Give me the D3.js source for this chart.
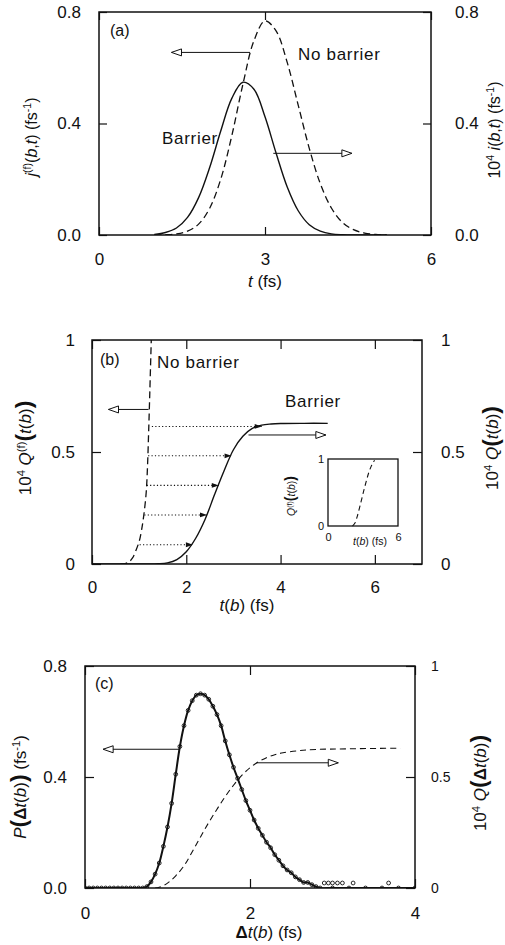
<!DOCTYPE html>
<html><head><meta charset="utf-8">
<script src="https://cdn.jsdelivr.net/npm/d3@7"></script>
<style>
body{margin:0;background:#fff;}
svg text{font-family:"Liberation Sans",Arial,Helvetica,sans-serif;fill:#111;}
</style></head><body>
<script>
// ---------- Panel (a) data ----------
const tGridA = [1.0,1.2,1.4,1.6,1.8,2.0,2.2,2.4,2.6,2.8,3.0,3.2,3.4,3.6,3.8,4.0,4.2,4.4,4.6,4.8,5.0,5.2];
const barrierA = [0.002,0.009,0.025,0.063,0.134,0.242,0.373,0.490,0.548,0.523,0.424,0.294,0.173,0.087,0.037,0.014,0.004,0.001,0,0,0,0];
const noBarrierA = [0,0.001,0.004,0.014,0.039,0.096,0.200,0.356,0.540,0.697,0.768,0.732,0.620,0.466,0.311,0.184,0.097,0.045,0.019,0.007,0.002,0];
const xTicksA = [0,3,6];
const yTicksA = [0,0.4,0.8];

// ---------- Panel (b) data ----------
const tBarrierB = [0,1.2,1.4,1.6,1.8,2.0,2.2,2.4,2.6,2.8,3.0,3.2,3.4,3.6,3.8,4.0,4.5,5.0];
const qBarrierB = [0,0,0.001,0.005,0.02,0.055,0.115,0.2,0.31,0.415,0.51,0.57,0.605,0.62,0.625,0.627,0.628,0.628];
const tNoBarrierB = [0.6,0.7,0.78,0.86,0.93,1.0,1.05,1.1,1.15,1.18,1.2,1.22,1.24,1.26];
const qNoBarrierB = [0,0.002,0.008,0.027,0.06,0.1,0.15,0.22,0.32,0.45,0.58,0.72,0.87,1.02];
const arrowQB = [0.086,0.219,0.351,0.483,0.614];
const arrowFromB = [1.01,1.11,1.16,1.19,1.27];
const arrowToB = [2.14,2.44,2.69,2.96,3.6];
const tInset = [2.1,2.3,2.5,2.7,2.9,3.1,3.3,3.5,3.7,3.9,4.0];
const qInset = [0,0.04,0.14,0.27,0.41,0.55,0.68,0.8,0.89,0.96,0.98];
const xTicksB = [0,2,4,6];
const yTicksB = [0,0.5,1];

// ---------- Panel (c) data ----------
const dtP = [0,0.05,0.1,0.15,0.2,0.25,0.3,0.35,0.4,0.45,0.5,0.55,0.6,0.65,0.7,0.75,0.8,0.85,0.9,0.95,1.0,1.05,1.1,1.15,1.2,1.25,1.3,1.35,1.4,1.45,1.5,1.55,1.6,1.65,1.7,1.75,1.8,1.85,1.9,1.95,2.0,2.05,2.1,2.15,2.2,2.25,2.3,2.35,2.4,2.45,2.5,2.55,2.6,2.65,2.7,2.75,2.8,2.85,3.0,3.2,3.4,3.6,3.8,4.0];
const pVals = [0,0,0,0,0,0,0,0,0,0,0,0,0,0,0,0.005,0.022,0.05,0.09,0.15,0.22,0.305,0.41,0.51,0.585,0.64,0.675,0.695,0.70,0.695,0.68,0.655,0.625,0.585,0.53,0.48,0.435,0.395,0.355,0.315,0.28,0.245,0.215,0.19,0.165,0.145,0.12,0.1,0.08,0.065,0.055,0.04,0.03,0.02,0.02,0.012,0.005,0,0,0,0,0,0,0];
const tailDt = [2.9,2.95,3.0,3.06,3.12,3.25,3.68];
const tailP = [0.018,0.018,0.018,0.018,0.018,0.018,0.018];
const dtQ = [0.85,0.9,1.0,1.1,1.2,1.3,1.4,1.5,1.6,1.7,1.8,1.9,2.0,2.1,2.2,2.3,2.4,2.6,2.8,3.2,3.82];
const qVals = [0,0.003,0.022,0.055,0.1,0.163,0.23,0.295,0.355,0.412,0.463,0.507,0.542,0.568,0.587,0.6,0.609,0.619,0.624,0.627,0.63];
const xTicksC = [0,2,4];
const yTicksCL = [0,0.4,0.8];
const yTicksCR = [0,0.5,1];

// ---------- setup ----------
const W=505,H=945;
const svg=d3.select("body").append("svg").attr("width",W).attr("height",H);
const defs=svg.append("defs");
defs.append("marker").attr("id","openHead").attr("viewBox","-1 -6 12 12")
  .attr("refX",10).attr("refY",0).attr("markerUnits","userSpaceOnUse")
  .attr("markerWidth",12).attr("markerHeight",12).attr("orient","auto")
  .append("path").attr("d","M0,-3.5L10,0L0,3.5Z").attr("fill","#fff").attr("stroke","#111").attr("stroke-width",1);
defs.append("marker").attr("id","fillHead").attr("viewBox","-1 -6 12 12")
  .attr("refX",7).attr("refY",0).attr("markerUnits","userSpaceOnUse")
  .attr("markerWidth",12).attr("markerHeight",12).attr("orient","auto")
  .append("path").attr("d","M0,-2.4L7,0L0,2.4Z").attr("fill","#111");

function rich(sel, parts, size){
  parts.forEach(p=>{
    const ts=sel.append("tspan").text(p.t);
    if(p.i) ts.attr("font-style","italic");
    if(p.b) ts.attr("font-weight","bold");
    if(p.sup) ts.attr("baseline-shift","super").attr("font-size",size*0.66);
    if(p.big) ts.attr("font-size",size*1.35).attr("font-weight","bold");
  });
}
function vlabel(x,y,parts,size){
  const t=svg.append("text").attr("transform",`translate(${x},${y}) rotate(-90)`)
    .attr("text-anchor","middle").attr("dy","0.35em").attr("font-size",size);
  rich(t,parts,size);
}
function label(x,y,parts,size,anchor,ls){
  const t=svg.append("text").attr("x",x).attr("y",y).attr("font-size",size)
    .attr("text-anchor",anchor||"start").attr("letter-spacing",ls||0);
  rich(t,parts,size);
}
function styleAxis(g,size){
  g.select(".domain").remove();
  g.selectAll("line").attr("stroke","#111").attr("stroke-width",1.2);
  g.selectAll("text").attr("font-size",size).attr("font-family","'Liberation Sans',Arial,sans-serif").attr("fill","#111");
}
function frame(L,T,R,B,id){
  defs.append("clipPath").attr("id",id).append("rect").attr("x",L).attr("y",T).attr("width",R-L).attr("height",B-T);
  return svg.append("rect").attr("x",L).attr("y",T).attr("width",R-L).attr("height",B-T)
    .attr("fill","none").attr("stroke","#111").attr("stroke-width",1.5);
}
function axes(x,y,yR,L,T,R,B,xt,ytL,ytR,fmtL,fmtR,tk,pads,sizes){
  const gb=svg.append("g").attr("transform",`translate(0,${B})`)
    .call(d3.axisBottom(x).tickValues(xt).tickSize(-tk).tickSizeOuter(0).tickPadding(pads[0]).tickFormat(d3.format("d")));
  styleAxis(gb,sizes[0]);
  const gt=svg.append("g").attr("transform",`translate(0,${T})`)
    .call(d3.axisTop(x).tickValues(xt).tickSize(-tk).tickSizeOuter(0).tickFormat(""));
  styleAxis(gt,sizes[0]);
  const gl=svg.append("g").attr("transform",`translate(${L},0)`)
    .call(d3.axisLeft(y).tickValues(ytL).tickSize(-tk).tickSizeOuter(0).tickPadding(pads[1]).tickFormat(fmtL));
  styleAxis(gl,sizes[1]);
  const gr=svg.append("g").attr("transform",`translate(${R},0)`)
    .call(d3.axisRight(yR).tickValues(ytR).tickSize(-tk).tickSizeOuter(0).tickPadding(pads[2]).tickFormat(fmtR));
  styleAxis(gr,sizes[2]);
}
const curve=d3.curveCatmullRom.alpha(0.5);

// ================= Panel (a) =================
{
  const L=99,R=431,T=12,B=235;
  const x=d3.scaleLinear().domain([0,6]).range([L,R]);
  const y=d3.scaleLinear().domain([0,0.8]).range([B,T]);
  const line=d3.line().x(d=>x(d[0])).y(d=>y(d[1])).curve(curve);
  const g=svg.append("g").attr("clip-path","url(#clipA)");
  g.append("path").attr("d",line(d3.zip(tGridA,noBarrierA))).attr("fill","none")
    .attr("stroke","#111").attr("stroke-width",1.3).attr("stroke-dasharray","7,4");
  g.append("path").attr("d",line(d3.zip(tGridA,barrierA))).attr("fill","none")
    .attr("stroke","#111").attr("stroke-width",1.4);
  frame(L,T,R,B,"clipA");
  axes(x,y,y,L,T,R,B,xTicksA,yTicksA,yTicksA,d3.format(".1f"),d3.format(".1f"),8,[18,18,24],[17,17,17]);
  svg.append("line").attr("x1",x(2.73)).attr("x2",x(1.31)).attr("y1",y(0.655)).attr("y2",y(0.655))
    .attr("stroke","#111").attr("stroke-width",1).attr("marker-end","url(#openHead)");
  svg.append("line").attr("x1",x(3.15)).attr("x2",x(4.57)).attr("y1",y(0.293)).attr("y2",y(0.293))
    .attr("stroke","#111").attr("stroke-width",1).attr("marker-end","url(#openHead)");
  label(110,36,[{t:"(a)"}],16);
  label(298,60,[{t:"No barrier"}],17,"start",0.7);
  label(162,144,[{t:"Barrier"}],17,"start",0.7);
  label(265,287,[{t:"t",i:true},{t:" (fs)"}],17,"middle");
  vlabel(31,137,[{t:"j",i:true},{t:"(f)",sup:true},{t:"("},{t:"b",i:true},{t:","},{t:"t",i:true},{t:") (fs"},{t:"-1",sup:true},{t:")"}],16);
  vlabel(494,130,[{t:"10"},{t:"4",sup:true},{t:"  "},{t:"i",i:true},{t:"("},{t:"b",i:true},{t:","},{t:"t",i:true},{t:") (fs"},{t:"-1",sup:true},{t:")"}],16);
}

// ================= Panel (b) =================
{
  const L=92,R=422,T=340,B=564;
  const x=d3.scaleLinear().domain([0,7]).range([L,R]);
  const y=d3.scaleLinear().domain([0,1]).range([B,T]);
  const line=d3.line().x(d=>x(d[0])).y(d=>y(d[1])).curve(curve);
  const g=svg.append("g").attr("clip-path","url(#clipB)");
  g.append("path").attr("d",line(d3.zip(tNoBarrierB,qNoBarrierB))).attr("fill","none")
    .attr("stroke","#111").attr("stroke-width",1.3).attr("stroke-dasharray","7,4");
  g.append("path").attr("d",line(d3.zip(tBarrierB,qBarrierB))).attr("fill","none")
    .attr("stroke","#111").attr("stroke-width",1.4);
  frame(L,T,R,B,"clipB");
  axes(x,y,y,L,T,R,B,xTicksB,yTicksB,yTicksB,d3.format("~g"),d3.format("~g"),9,[17,17,19],[17,17,17]);
  svg.append("g").selectAll("line").data(d3.range(arrowQB.length)).join("line")
    .attr("x1",i=>x(arrowFromB[i])).attr("x2",i=>x(arrowToB[i]))
    .attr("y1",i=>y(arrowQB[i])).attr("y2",i=>y(arrowQB[i]))
    .attr("stroke","#111").attr("stroke-width",1.1).attr("stroke-dasharray","1.2,2.2")
    .attr("marker-end","url(#fillHead)");
  svg.append("line").attr("x1",x(1.2)).attr("x2",x(0.35)).attr("y1",y(0.69)).attr("y2",y(0.69))
    .attr("stroke","#111").attr("stroke-width",1).attr("marker-end","url(#openHead)");
  svg.append("line").attr("x1",x(3.32)).attr("x2",x(4.96)).attr("y1",y(0.576)).attr("y2",y(0.576))
    .attr("stroke","#111").attr("stroke-width",1).attr("marker-end","url(#openHead)");
  label(100,365,[{t:"(b)"}],16);
  label(157,368,[{t:"No barrier"}],17,"start",0.7);
  label(285,407,[{t:"Barrier"}],17,"start",0.7);
  label(247,611,[{t:"t",i:true},{t:"("},{t:"b",i:true},{t:")  (fs)"}],17,"middle");
  vlabel(25,448,[{t:"10"},{t:"4",sup:true},{t:" "},{t:"Q",i:true},{t:"(f)",sup:true},{t:"(",big:true},{t:"t",i:true},{t:"("},{t:"b",i:true},{t:")"},{t:")",big:true}],17);
  vlabel(492,448,[{t:"10"},{t:"4",sup:true},{t:" "},{t:"Q",i:true},{t:"(",big:true},{t:"t",i:true},{t:"("},{t:"b",i:true},{t:")"},{t:")",big:true}],17);

  // inset
  const iL=328,iR=398,iT=459,iB=526;
  const xi=d3.scaleLinear().domain([0,6]).range([iL,iR]);
  const yi=d3.scaleLinear().domain([0,1]).range([iB,iT]);
  const li=d3.line().x(d=>xi(d[0])).y(d=>yi(d[1])).curve(curve);
  svg.append("rect").attr("x",iL).attr("y",iT).attr("width",iR-iL).attr("height",iB-iT)
    .attr("fill","#fff").attr("stroke","#111").attr("stroke-width",1.3);
  svg.append("path").attr("d",li(d3.zip(tInset,qInset))).attr("fill","none")
    .attr("stroke","#111").attr("stroke-width",1.1).attr("stroke-dasharray","5,3.5");
  const gix=svg.append("g").attr("transform",`translate(0,${iB})`)
    .call(d3.axisBottom(xi).tickValues([0,6]).tickSize(0).tickPadding(7).tickFormat(d3.format("d")));
  styleAxis(gix,11);
  const giy=svg.append("g").attr("transform",`translate(${iL},0)`)
    .call(d3.axisLeft(yi).tickValues([0,1]).tickSize(0).tickPadding(4).tickFormat(d3.format("d")));
  styleAxis(giy,11);
  label(370,545,[{t:"t",i:true},{t:"("},{t:"b",i:true},{t:")  (fs)"}],10.5,"middle");
  vlabel(291,496,[{t:"Q",i:true},{t:"(f)",sup:true},{t:"(",big:true},{t:"t",i:true},{t:"("},{t:"b",i:true},{t:")"},{t:")",big:true}],10.5);
}

// ================= Panel (c) =================
{
  const L=85,R=415,T=666,B=888;
  const x=d3.scaleLinear().domain([0,4]).range([L,R]);
  const y=d3.scaleLinear().domain([0,0.8]).range([B,T]);
  const yR=d3.scaleLinear().domain([0,1]).range([B,T]);
  const lineP=d3.line().x(d=>x(d[0])).y(d=>y(d[1])).curve(curve);
  const lineQ=d3.line().x(d=>x(d[0])).y(d=>yR(d[1])).curve(curve);
  const g=svg.append("g").attr("clip-path","url(#clipC)");
  g.append("path").attr("d",lineQ(d3.zip(dtQ,qVals))).attr("fill","none")
    .attr("stroke","#111").attr("stroke-width",1.1).attr("stroke-dasharray","6,4");
  g.append("path").attr("d",lineP(d3.zip(dtP,pVals))).attr("fill","none")
    .attr("stroke","#111").attr("stroke-width",2);
  g.append("g").selectAll("circle").data(d3.zip(dtP,pVals)).join("circle")
    .attr("cx",d=>x(d[0])).attr("cy",d=>y(d[1])).attr("r",1.9)
    .attr("fill","none").attr("stroke","#111").attr("stroke-width",0.9);
  g.append("g").selectAll("circle").data(d3.zip(tailDt,tailP)).join("circle")
    .attr("cx",d=>x(d[0])).attr("cy",d=>y(d[1])).attr("r",1.9)
    .attr("fill","none").attr("stroke","#111").attr("stroke-width",0.9);
  frame(L,T,R,B,"clipC");
  axes(x,y,yR,L,T,R,B,xTicksC,yTicksCL,yTicksCR,d3.format(".1f"),d3.format("~g"),9,[19,18,16],[17,17,14]);
  svg.append("line").attr("x1",x(1.15)).attr("x2",x(0.22)).attr("y1",y(0.5)).attr("y2",y(0.5))
    .attr("stroke","#111").attr("stroke-width",1).attr("marker-end","url(#openHead)");
  svg.append("line").attr("x1",x(2.08)).attr("x2",x(3.07)).attr("y1",yR(0.564)).attr("y2",yR(0.564))
    .attr("stroke","#111").attr("stroke-width",1).attr("marker-end","url(#openHead)");
  label(95,689,[{t:"(c)"}],16);
  label(269,938,[{t:"Δ",b:true},{t:"t",i:true},{t:"("},{t:"b",i:true},{t:")  (fs)"}],17,"middle");
  vlabel(20,787,[{t:"P",i:true},{t:"(",big:true},{t:"Δ",b:true},{t:"t",i:true},{t:"("},{t:"b",i:true},{t:")"},{t:")",big:true},{t:" (fs"},{t:"-1",sup:true},{t:")"}],17);
  vlabel(480,783,[{t:"10"},{t:"4",sup:true},{t:" "},{t:"Q",i:true},{t:"(",big:true},{t:"Δ",b:true},{t:"t",i:true},{t:"("},{t:"b",i:true},{t:")"},{t:")",big:true}],17);
}
</script>
</body></html>
